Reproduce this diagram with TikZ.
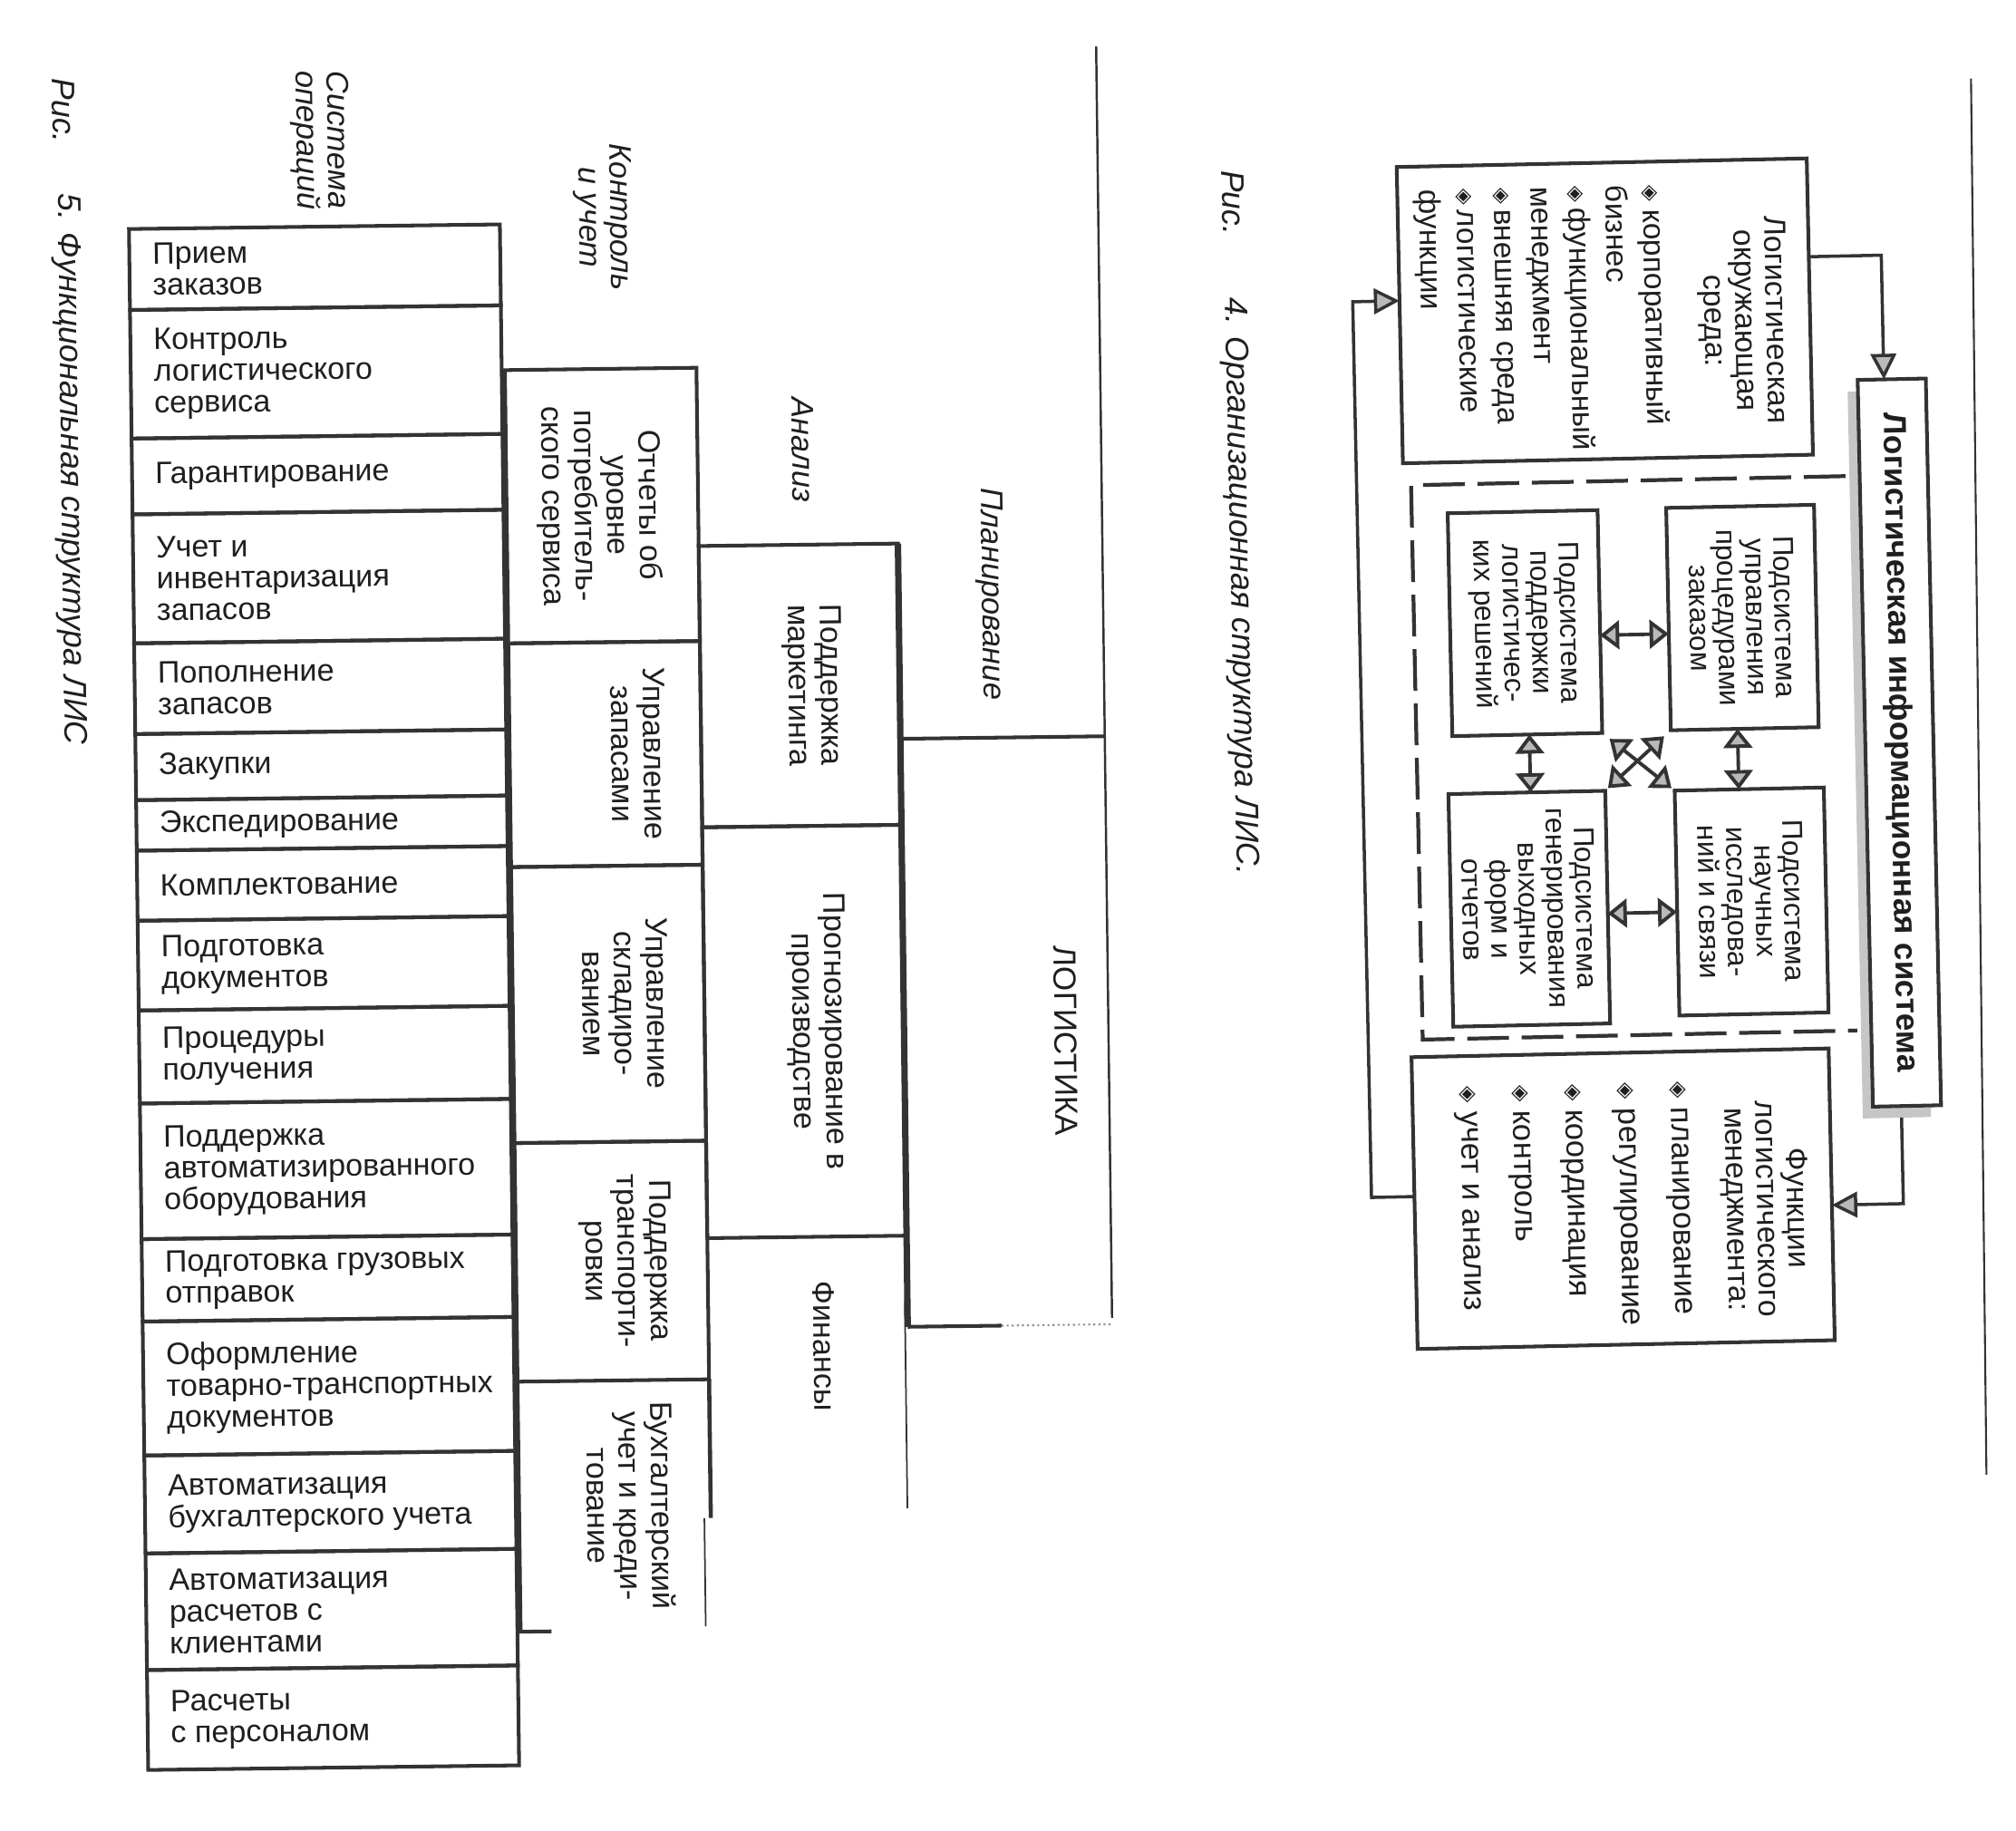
\documentclass[tikz,border=0pt]{standalone}
\usepackage{fontspec}
\setmainfont{Liberation Sans}
\newfontfamily\dejavu{DejaVu Sans}
\usepackage{graphicx}
\usetikzlibrary{arrows.meta}
\newcommand\uu{0.1418mm}
\newcommand\bul{\raisebox{0.1ex}{\scalebox{0.7}{\dejavu ◈}}}
\begin{document}
\begin{tikzpicture}[x=0.1418mm, y=-0.1418mm,
  lc/.style={draw=black!80},
  ln/.style={lc, line width=1.15pt},
  bx/.style={ln, inner sep=0pt, outer sep=0pt},
  bw/.style={minimum width={#1*\uu}},
  bh/.style={minimum height={#1*\uu}},
  ltxt/.style={inner sep=0pt, align=left, text=black!88, font=\fontsize{9.7}{9.9}\selectfont},
  rtxt/.style={rotate=-90, inner sep=0pt, align=center, text=black!88, font=\fontsize{9.7}{10.1}\selectfont},
  lbl/.style={rotate=-90, inner sep=0pt, align=center, text=black!88, font=\itshape\fontsize{9.8}{9.7}\selectfont},
  captxt/.style={rotate=-90, inner sep=0pt, text=black!88, font=\itshape\fontsize{10.2}{12}\selectfont},
  subtxt/.style={rotate=-90, inner sep=0pt, align=center, text=black!88, font=\fontsize{9}{8.9}\selectfont},
  conn/.style={lc, line width=1pt, -{Triangle[length=8pt,width=8pt,fill=gray!55]}},
  dbl/.style={lc, line width=1.1pt, {Triangle[length=6pt,width=9pt,fill=gray!55]}-{Triangle[length=6pt,width=9pt,fill=gray!55]}},
  dashbox/.style={lc, line width=1.2pt, dash pattern=on 4.6mm off 1.4mm},
]
\fill[white] (0,0) rectangle (1568,1424);
\useasboundingbox (0,0) rectangle (1568,1424);

% ================= Fig. 5 =================
\begin{scope}[rotate around={0.716:(784,712)}, transform shape]
\node[captxt, anchor=west] (f5a) at (57.4,51) {Рис.};
\node[captxt, anchor=west] (f5b) at (58.4,141) {5. Функциональная структура ЛИС};
\node[lbl] (l1) at (256.5,102.3) {Система\\операций};
\node[lbl] (l2) at (475.5,165) {Контроль\\и учет};
\node[lbl] (l3) at (629,348) {Анализ};
\node[lbl] (l4) at (773.1,461.8) {Планирование};

\foreach \ya/\yb/\nm/\txt in {
169.6/232.6/o1/{Прием\\заказов},
232.6/332.6/o2/{Контроль\\логистического\\сервиса},
332.6/391.6/o3/{Гарантирование},
391.6/491.9/o4/{Учет и\\инвентаризация\\запасов},
491.9/562.5/o5/{Пополнение\\запасов},
562.5/613.9/o6/{Закупки},
613.9/653.2/o7/{Экспедирование},
653.2/707.7/o8/{Комплектование},
707.7/777.5/o9/{Подготовка\\документов},
777.5/849.9/o10/{Процедуры\\получения},
849.9/955.4/o11/{Поддержка\\автоматизированного\\оборудования},
955.4/1019.5/o12/{Подготовка грузовых\\отправок},
1019.5/1123.7/o13/{Оформление\\товарно-транспортных\\документов},
1123.7/1199.9/o14/{Автоматизация\\бухгалтерского учета},
1199.9/1290.6/o15/{Автоматизация\\расчетов с\\клиентами},
1290.6/1368.3/o16/{Расчеты\\с персоналом}}
{
\node[bx, bw=288.5, minimum height={(\yb-\ya)*\uu}] (\nm) at (251.25,{(\ya+\yb)/2}) {};
\node[ltxt, anchor=west] (\nm-t) at (124.5,{(\ya+\yb)/2}) {\txt};
}

% column 2
\node[bx, bw=149, bh=212.6] (c2a) at (472.5,389.3) {};
\node[bx, bw=149, bh=174] (c2b) at (472.5,582.6) {};
\node[bx, bw=149, bh=214.7] (c2c) at (472.5,776.95) {};
\node[bx, bw=149, bh=185.6] (c2d) at (472.5,977.1) {};
\draw[ln] (398,1069.9) -- (398,1264.4) -- (422,1264.4);
\draw[lc, line width=1.3pt] (547,1069.9) -- (547,1177.7);
\draw[lc, line width=0.5pt] (542,1178) -- (542,1262);
\node[rtxt, anchor=north] (t2a) at (519.5,389.3) {Отчеты об\\уровне\\потребитель-\\ского сервиса};
\node[rtxt, anchor=north] (t2b) at (519.5,582.6) {Управление\\запасами};
\node[rtxt, anchor=north] (t2c) at (519.5,776.95) {Управление\\складиро-\\ванием};
\node[rtxt, anchor=north] (t2d) at (519.5,977.1) {Поддержка\\транспорти-\\ровки};
\node[rtxt, anchor=north] (t2e) at (519.5,1167.5) {Бухгалтерский\\учет и креди-\\тование};

% column 3
\node[bx, bw=155, bh=218.8] (c3a) at (624.5,531.1) {};
\node[bx, bw=155, bh=319.6] (c3b) at (624.5,800.3) {};
\draw[lc, line width=2pt] (702,421.7) -- (702,1031);
\draw[lc, line width=0.5pt] (700,1011) -- (700,1172);
\node[rtxt, anchor=north] (t3a) at (658,531.1) {Поддержка\\маркетинга};
\node[rtxt, anchor=north] (t3b) at (658,800.3) {Прогнозирование в\\производстве};
\node[rtxt, anchor=north] (t3c) at (646,1045.2) {Финансы};

% column 4
\draw[ln] (702,573.6) -- (861,573.6);
\draw[ln] (702,1031) -- (775,1031);
\draw[draw=black!45, line width=0.6pt, densely dotted] (775,1031) -- (861,1031);
\draw[lc, line width=0.7pt] (861,37) -- (861,1026);
\node[rotate=-90, inner sep=0pt, text=black!88, font=\fontsize{10}{12}\selectfont] (logi) at (827.8,810.2) {ЛОГИСТИКА};
\end{scope}

% page line on the right
\draw[lc, line width=0.6pt] (1533,61) -- (1545,1147);

% ================= Fig. 4 =================
\begin{scope}[rotate around={1.203:(1300,590)}, transform shape]
\node[captxt, anchor=west] (f4a) at (968.6,124.8) {Рис.};
\node[captxt, anchor=west] (f4b) at (966.8,223.9) {4. Организационная структура ЛИС.};

\node[bx, bw=319, bh=230.5] (env) at (1255.5,240.75) {};
\node[rtxt, anchor=north, font=\fontsize{9.6}{9.7}\selectfont] (envh) at (1398,250.6) {Логистическая\\окружающая\\среда:};
\node[rtxt, anchor=north west, align=left, font=\fontsize{9.5}{11.7}\selectfont] (envl) at (1305,143) {\bul\ корпоративный\\бизнес\\\bul\,функциональный\\менеджмент\\\bul\,внешняя среда\\\bul\,логистические\\функции};

\node[fill=gray!45, inner sep=0pt, outer sep=0pt, bw=53, bh=565.4] (infosh) at (1469.5,590.3) {};
\node[bx, fill=white, bw=53, bh=565.4] (info) at (1477.5,581.3) {};
\node[rtxt, font=\bfseries\fontsize{10}{12}\selectfont] (infot) at (info.center) {Логистическая информационная система};

\draw[dashbox] (1440,373.2) -- (1102,373.2) -- (1102,804.5) -- (1440,804.5);

\node[bx, bw=116.6, bh=173.4] (sb) at (1188.3,482.3) {};
\node[bx, bw=115, bh=173] (sa) at (1357.5,481.5) {};
\node[bx, bw=122, bh=181] (sd) at (1187,704.5) {};
\node[bx, bw=116, bh=175] (sc) at (1360,702.5) {};
\node[subtxt] (sat) at (sa.center) {Подсистема\\управления\\процедурами\\заказом};
\node[subtxt] (sbt) at (sb.center) {Подсистема\\поддержки\\логистичес-\\ких решений};
\node[subtxt] (sct) at (sc.center) {Подсистема\\научных\\исследова-\\ний и связи};
\node[subtxt] (sdt) at (sd.center) {Подсистема\\генерирования\\выходных\\форм и\\отчетов};

\node[bx, bw=324.5, bh=227] (func) at (1255.25,931.5) {};
\node[rtxt, anchor=north, font=\fontsize{9.6}{9.5}\selectfont] (funch) at (1400,941.6) {Функции\\логистического\\менеджмента:};
\node[rtxt, anchor=north west, align=left, font=\fontsize{9.8}{16.5}\selectfont] (funcl) at (1307.7,841) {\bul\ планирование\\\bul\ регулирование\\\bul\ координация\\\bul\ контроль\\\bul\ учет и анализ};

% connectors
\coordinate (ei) at (1471.5,202);
\draw[conn] (env.east |- ei) -- (ei) -- (ei |- info.north);
\coordinate (if) at (1473.2,940);
\draw[conn] (if |- infosh.south) -- (if) -- (func.east |- if);
\coordinate (lp1) at (1059.7,926.5);
\coordinate (lp2) at (1059.7,229.6);
\draw[conn] (func.west |- lp1) -- (lp1) -- (lp2) -- (env.west |- lp2);

\coordinate (ab) at (1273,493);
\draw[dbl] (sb.east |- ab) -- (sa.west |- ab);
\coordinate (cd) at (1275,709.5);
\draw[dbl] (sd.east |- cd) -- (sc.west |- cd);
\coordinate (ac) at (1352,592);
\draw[dbl] (sa.south -| ac) -- (sc.north -| ac);
\coordinate (bd) at (1190,592);
\draw[dbl] (sb.south -| bd) -- (sd.north -| bd);
\draw[dbl, shorten <=3pt, shorten >=1.2pt] (sb.south east) -- (sc.north west);
\draw[dbl, shorten <=2.8pt, shorten >=1.2pt] (sa.south west) -- (sd.north east);
\end{scope}
\end{tikzpicture}
\end{document}
